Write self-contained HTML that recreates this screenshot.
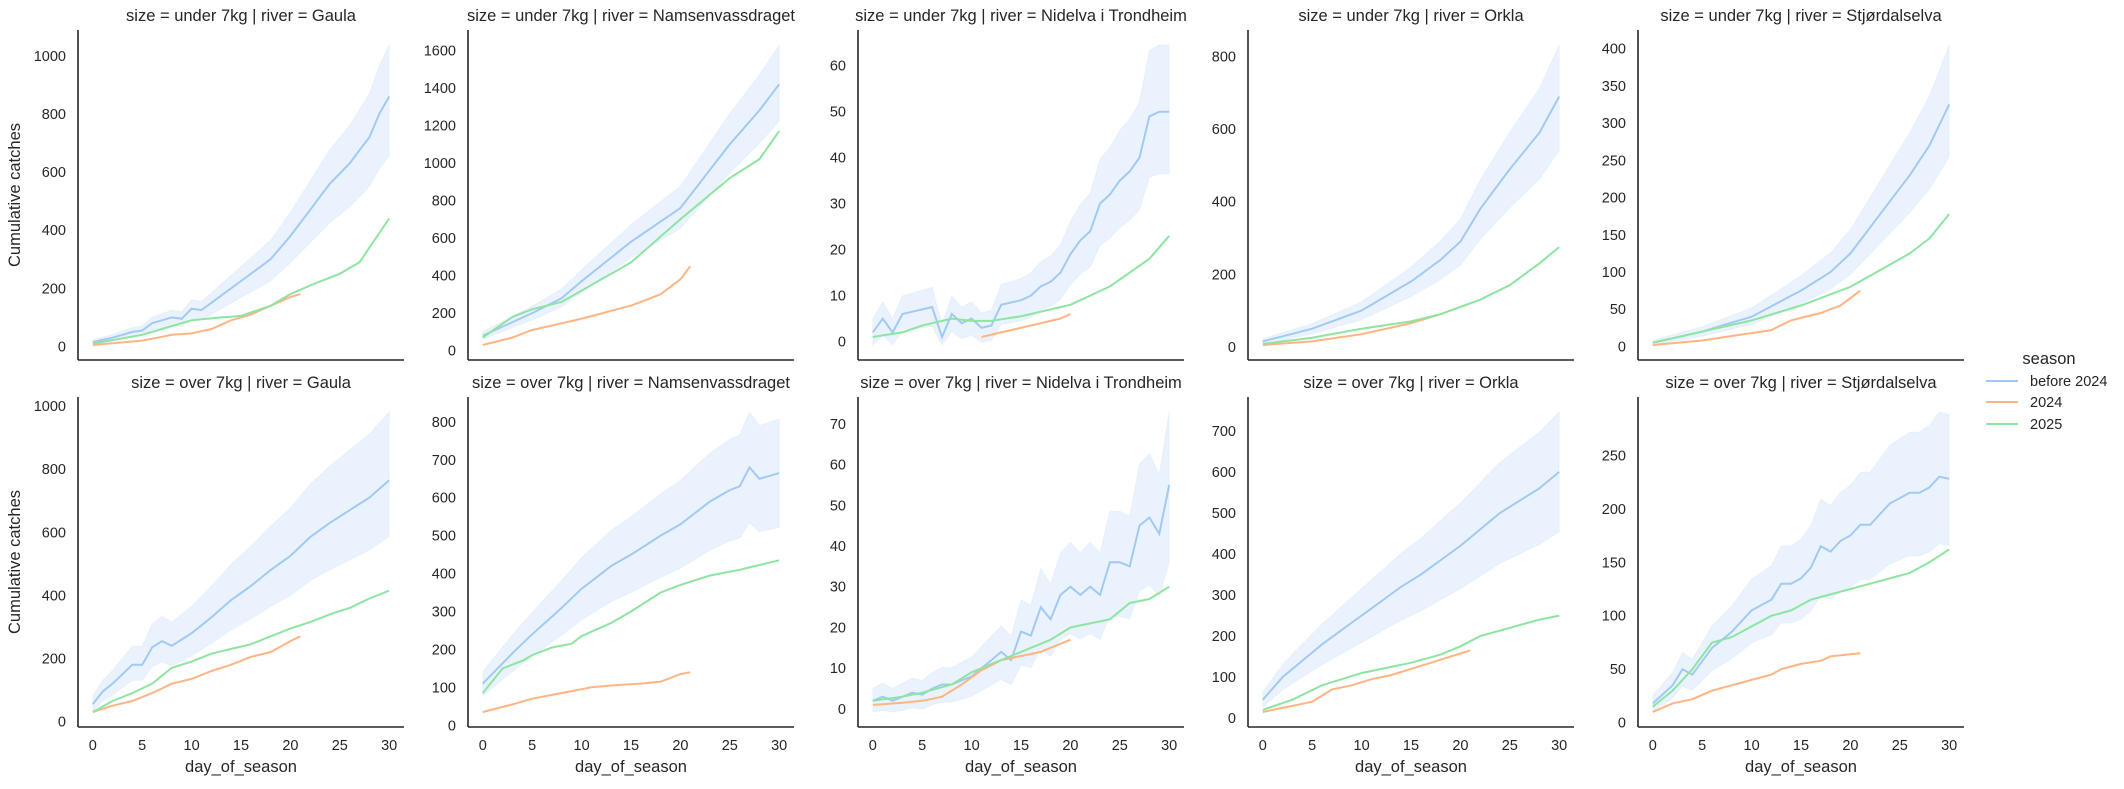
<!DOCTYPE html>
<html><head><meta charset="utf-8"><style>
html,body{margin:0;padding:0;background:#fff;}
svg text{font-family:"Liberation Sans",sans-serif;fill:#262626;}
</style></head><body>
<svg id="s" width="2124" height="784" xmlns="http://www.w3.org/2000/svg"></svg>
<script>
const P=[
 {t:"size = under 7kg | river = Gaula",ticks:[0,200,400,600,800,1000],
  b:{0:15,2:30,4:50,5:55,6:80,8:100,9:95,10:130,11:125,12:150,14:200,16:250,18:300,20:380,22:470,24:560,26:630,28:720,29:800,30:860},fu:0.2,fl:0.23,add:5,
  g:{0:10,5:40,8:70,10:90,13:100,15:105,18:140,20:180,22:210,25:250,27:290,28:340,30:440},
  o:{0:5,5:20,8:40,10:45,12:60,14:90,16:110,18:140,20:170,21:180}},
 {t:"size = under 7kg | river = Namsenvassdraget",ticks:[0,200,400,600,800,1000,1200,1400,1600],
  b:{0:80,5:200,8:280,10:370,15:580,20:760,25:1100,28:1280,30:1420},fu:0.14,fl:0.13,add:10,
  g:{0:70,3:180,5:220,8:260,10:320,15:470,20:700,25:920,28:1020,30:1170},
  o:{0:30,3:70,5:110,10:170,15:240,18:300,20:380,21:450}},
 {t:"size = under 7kg | river = Nidelva i Trondheim",ticks:[0,10,20,30,40,50,60],
  b:{0:2,1:5,2:2,3:6,4:6.5,5:7,6:7.5,7:1,8:6,9:4,10:5,11:3,12:3.5,13:8,14:8.5,15:9,16:10,17:12,18:13,19:15,20:19,21:22,22:24,23:30,24:32,25:35,26:37,27:40,28:49,29:50,30:50},fu:0.24,fl:0.22,add:2.5,
  g:{0:1,3:2,5:3.5,8:5,10:4.5,12:4.5,15:5.5,18:7,20:8,22:10,24:12,26:15,28:18,30:23},
  o:{11:1,13:2,15:3,17:4,19:5,20:6}},
 {t:"size = under 7kg | river = Orkla",ticks:[0,200,400,600,800],
  b:{0:15,5:50,10:100,15:180,18:240,20:290,22:380,25:490,28:590,30:690},fu:0.2,fl:0.21,add:4,
  g:{0:8,5:25,10:50,15:70,18:90,20:110,22:130,25:170,28:230,30:275},
  o:{0:5,5:15,10:35,15:65,18:90,20:110,21:120}},
 {t:"size = under 7kg | river = Stjørdalselva",ticks:[0,50,100,150,200,250,300,350,400],
  b:{0:5,5:20,10:40,15:75,18:100,20:125,22:160,24:195,26:230,28:270,30:325},fu:0.24,fl:0.21,add:2,
  g:{0:5,5:20,10:35,15:55,18:70,20:80,22:95,24:110,26:125,28:145,30:178},
  o:{0:2,5:8,10:18,12:22,14:35,17:45,19:55,21:75}},
 {t:"size = over 7kg | river = Gaula",ticks:[0,200,400,600,800,1000],
  b:{0:55,1:95,2:120,3:150,4:180,5:180,6:235,7:255,8:240,10:280,12:330,14:385,16:430,18:480,20:525,22:585,24:630,26:670,28:710,30:765},fu:0.27,fl:0.22,add:10,
  g:{0:30,2:65,4:90,6:120,8:170,10:190,12:215,14:230,16:245,18:270,20:295,22:315,24:340,26:360,28:390,30:415},
  o:{0:30,2:50,4:65,6:90,8:120,10:135,12:160,14:180,16:205,18:220,20:255,21:270}},
 {t:"size = over 7kg | river = Namsenvassdraget",ticks:[0,100,200,300,400,500,600,700,800],
  b:{0:110,3:190,5:240,8:310,10:360,13:420,15:450,18:500,20:530,23:590,25:620,26:630,27:680,28:650,30:665},fu:0.2,fl:0.2,add:10,
  g:{0:85,2:150,4:170,5:185,7:205,9:215,10:235,13:270,15:300,18:350,20:370,23:395,26:410,30:435},
  o:{0:35,3:55,5:70,7:80,9:90,11:100,13:105,16:110,18:115,20:135,21:140}},
 {t:"size = over 7kg | river = Nidelva i Trondheim",ticks:[0,10,20,30,40,50,60,70],
  b:{0:2,1:3,2:2,3:3,4:4,5:3.5,6:5,7:6,8:6,9:7,10:8,11:10,12:12,13:14,14:12,15:19,16:18,17:25,18:22,19:28,20:30,21:28,22:30,23:28,24:36,25:36,26:35,27:45,28:47,29:43,30:55},fu:0.28,fl:0.3,add:2.5,
  g:{0:2,3:3,5:4,8:6,10:9,12:11,14:13,16:15,18:17,20:20,22:21,24:22,26:26,28:27,30:30},
  o:{0:1,3:1.5,5:2,7:3,9:6,11:9.5,13:12,15:13,17:14,19:16,20:17}},
 {t:"size = over 7kg | river = Orkla",ticks:[0,100,200,300,400,500,600,700],
  b:{0:45,2:100,4:140,6:180,8:215,10:250,12:285,14:320,16:350,18:385,20:420,22:460,24:500,26:530,28:560,30:600},fu:0.23,fl:0.23,add:8,
  g:{0:20,3:45,6:80,8:95,10:110,12:120,15:135,18:155,20:175,22:200,25:220,28:240,30:250},
  o:{0:15,3:30,5:40,7:70,9:80,11:95,13:105,15:120,17:135,19:150,21:165}},
 {t:"size = over 7kg | river = Stjørdalselva",ticks:[0,50,100,150,200,250],
  b:{0:18,2:35,3:50,4:45,6:70,8:85,10:105,12:115,13:130,14:130,15:135,16:145,17:165,18:160,19:170,20:175,21:185,22:185,23:195,24:205,25:210,26:215,27:215,28:220,29:230,30:228},fu:0.25,fl:0.26,add:3,
  g:{0:15,2:30,4:50,6:75,8:80,10:90,12:100,14:105,16:115,18:120,20:125,22:130,24:135,26:140,28:150,30:162},
  o:{0:10,2:18,4:22,6:30,8:35,10:40,12:45,13:50,15:55,17:58,18:62,21:65}}
];
function interp(k){const ks=Object.keys(k).map(Number).sort((a,b)=>a-b);const r=[];
 for(let d=ks[0];d<=ks[ks.length-1];d++){let i=0;while(i<ks.length-1&&ks[i+1]<d)i++;
  const a=ks[i],b=ks[Math.min(i+1,ks.length-1)];const v=(a==b||d<=a)?k[a]:k[a]+(k[b]-k[a])*(d-a)/(b-a);r.push([d,v]);}
 return r;}
let h='';
const C={b:"#a1c9f4",o:"#ffb482",g:"#8de5a1"};
P.forEach((p,i)=>{
 const r=Math.floor(i/5),c=i%5;
 const L=78+390*c,R=L+326,T=r?397:30,B=T+330;
 const b=interp(p.b),g=interp(p.g),o=interp(p.o);
 const up=b.map(([d,v])=>[d,v*(1+p.fu)+p.add]),lo=b.map(([d,v])=>[d,Math.max(v*(1-p.fl)-p.add,-p.add*0.3)]);
 let mn=Infinity,mx=-Infinity;[up,lo,g,o,b].forEach(s=>s.forEach(([d,v])=>{mn=Math.min(mn,v);mx=Math.max(mx,v);}));
 const pad=(mx-mn)*0.05;const y0=mn-pad,y1=mx+pad;
 const X=d=>L+(d+1.5)*326/33,Y=v=>B-(v-y0)/(y1-y0)*330;
 const pts=s=>s.map(([d,v])=>X(d).toFixed(1)+','+Y(v).toFixed(1)).join(' ');
 h+=`<polygon points="${pts(up)} ${pts(lo.slice().reverse())}" fill="#a1c9f4" fill-opacity="0.22" stroke="#a1c9f4" stroke-opacity="0.15"/>`;
 h+=`<polyline points="${pts(b)}" fill="none" stroke="${C.b}" stroke-width="2"/>`;
 h+=`<polyline points="${pts(o)}" fill="none" stroke="${C.o}" stroke-width="2"/>`;
 h+=`<polyline points="${pts(g)}" fill="none" stroke="${C.g}" stroke-width="2"/>`;
 h+=`<line x1="${L}" y1="${T}" x2="${L}" y2="${B}" stroke="#262626" stroke-width="1.6"/>`;
 h+=`<line x1="${L}" y1="${B}" x2="${R}" y2="${B}" stroke="#262626" stroke-width="1.6"/>`;
 p.ticks.forEach(t=>{h+=`<text x="${L-12}" y="${Y(t)+5}" font-size="14.5" text-anchor="end">${t}</text>`;});
 h+=`<text x="${(L+R)/2}" y="${T-9}" font-size="16.5" text-anchor="middle">${p.t}</text>`;
 if(r==1){for(let t=0;t<=30;t+=5)h+=`<text x="${X(t)}" y="750" font-size="14.5" text-anchor="middle">${t}</text>`;
  h+=`<text x="${(L+R)/2}" y="772" font-size="16.5" text-anchor="middle">day_of_season</text>`;}
 if(c==0)h+=`<text transform="translate(20,${(T+B)/2}) rotate(-90)" font-size="16.5" text-anchor="middle">Cumulative catches</text>`;
});
h+=`<text x="2049" y="364" font-size="16.5" text-anchor="middle">season</text>`;
[["before 2024",C.b,381],["2024",C.o,402],["2025",C.g,424]].forEach(([t,col,y])=>{
 h+=`<line x1="1986" y1="${y}" x2="2018" y2="${y}" stroke="${col}" stroke-width="2"/>`;
 h+=`<text x="2030" y="${y+5}" font-size="14.5">${t}</text>`;});
document.getElementById('s').innerHTML=h;
</script>
</body></html>
